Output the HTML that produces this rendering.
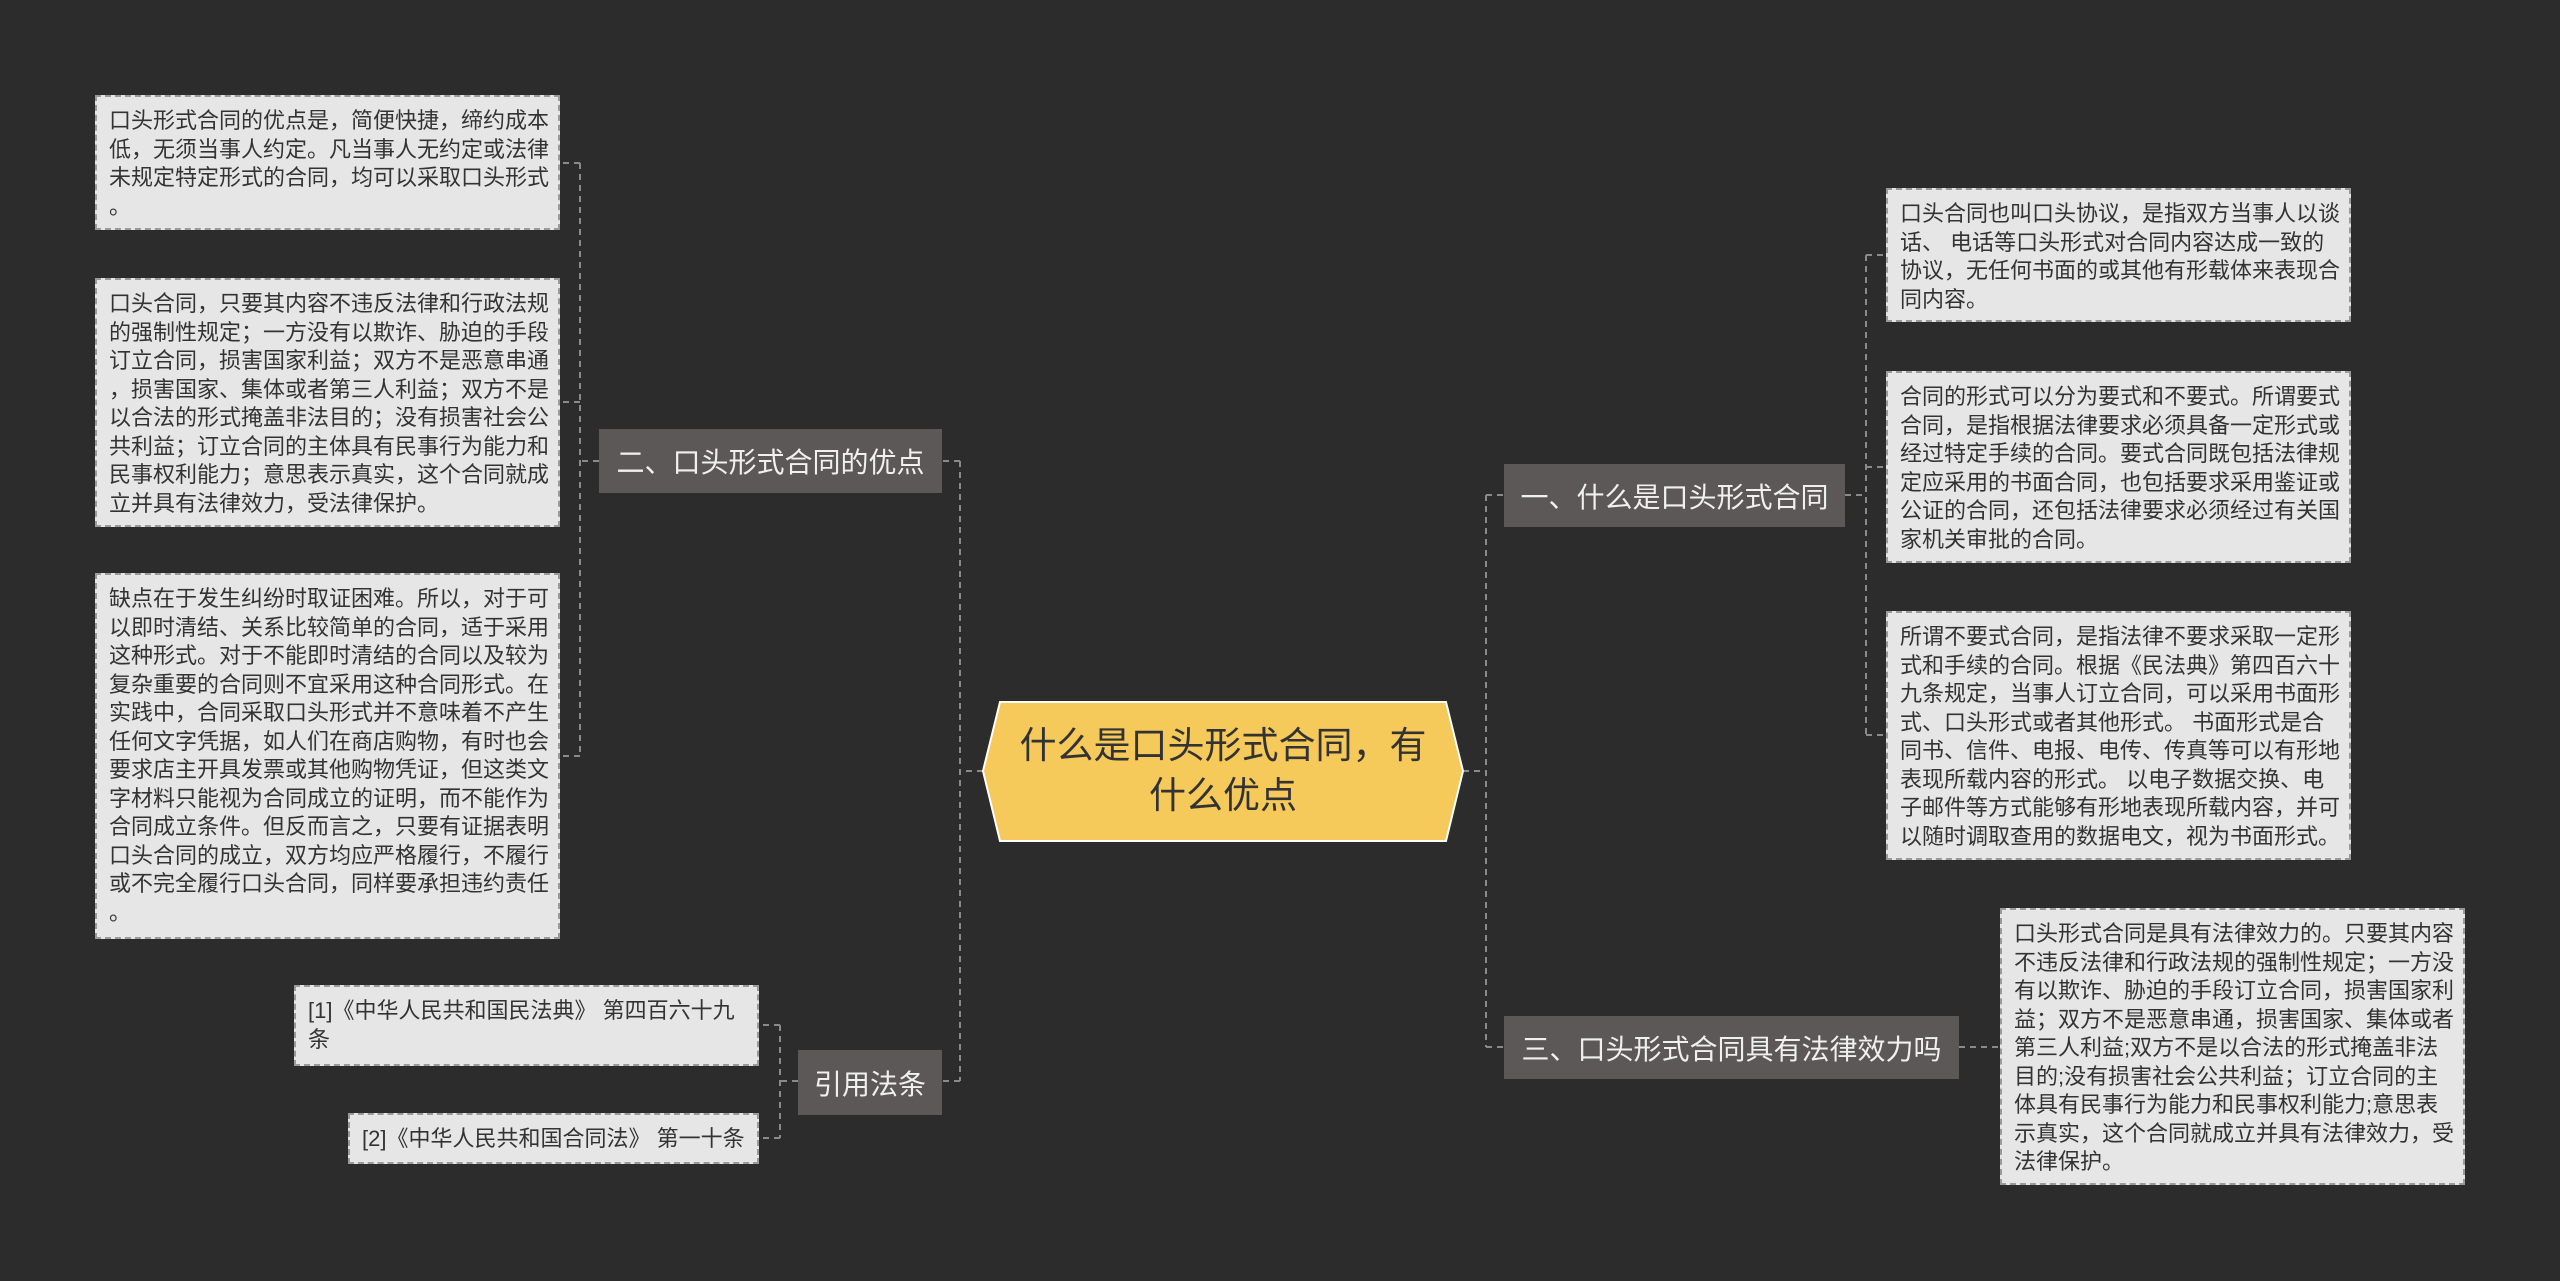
<!DOCTYPE html>
<html><head><meta charset="utf-8"><style>
html,body{margin:0;padding:0}
body{width:2560px;height:1281px;background:#2c2c2c;position:relative;overflow:hidden;font-family:"Liberation Sans","Noto Sans CJK SC",sans-serif}
.leaf{position:absolute;background:#e6e6e6;border:2px dashed #9a9a9a;box-sizing:border-box;color:#333;font-size:22px;line-height:28.5px;padding:10px 12px;white-space:nowrap}
.br{position:absolute;background:#5b5857;color:#f0f0f0;font-size:28px;display:flex;align-items:center;justify-content:center;white-space:nowrap}
svg{position:absolute;left:0;top:0}
</style></head><body>
<svg width="2560" height="1281">
<g stroke="#8a8a8a" stroke-width="2" stroke-dasharray="6,5" fill="none">
<path d="M983 771 H960 M960 461 V1081 M960 461 H942 M960 1081 H942"/>
<path d="M599 461 H580 M580 163 V756 M580 163 H560 M580 402 H560 M580 756 H560"/>
<path d="M798 1081 H780 M780 1025 V1138 M780 1025 H759 M780 1138 H759"/>
<path d="M1463 771 H1486 M1486 495 V1047 M1486 495 H1504 M1486 1047 H1504"/>
<path d="M1845 495 H1866 M1866 255 V735 M1866 255 H1886 M1866 467 H1886 M1866 735 H1886"/>
<path d="M1959 1047 H2000"/>
</g>
<polygon points="1000,702 1446,702 1463,771 1446,841 1000,841 983,771" fill="#f5c95a" stroke="#fff" stroke-width="2"/>
<text x="1223" y="758" font-size="37" fill="#333" text-anchor="middle" font-family="Liberation Sans,Noto Sans CJK SC,sans-serif">什么是口头形式合同，有</text>
<text x="1223" y="808" font-size="37" fill="#333" text-anchor="middle" font-family="Liberation Sans,Noto Sans CJK SC,sans-serif">什么优点</text>
</svg>
<div class="br" style="left:599px;top:429px;width:343px;height:64px">二、口头形式合同的优点</div>
<div class="br" style="left:798px;top:1050px;width:144px;height:65px">引用法条</div>
<div class="br" style="left:1504px;top:464px;width:341px;height:63px">一、什么是口头形式合同</div>
<div class="br" style="left:1504px;top:1016px;width:455px;height:63px">三、口头形式合同具有法律效力吗</div>

<div class="leaf" style="left:95px;top:95px;width:465px;height:135px">口头形式合同的优点是，简便快捷，缔约成本<br>低，无须当事人约定。凡当事人无约定或法律<br>未规定特定形式的合同，均可以采取口头形式<br>。</div>
<div class="leaf" style="left:95px;top:278px;width:465px;height:249px">口头合同，只要其内容不违反法律和行政法规<br>的强制性规定；一方没有以欺诈、胁迫的手段<br>订立合同，损害国家利益；双方不是恶意串通<br>，损害国家、集体或者第三人利益；双方不是<br>以合法的形式掩盖非法目的；没有损害社会公<br>共利益；订立合同的主体具有民事行为能力和<br>民事权利能力；意思表示真实，这个合同就成<br>立并具有法律效力，受法律保护。</div>
<div class="leaf" style="left:95px;top:573px;width:465px;height:366px">缺点在于发生纠纷时取证困难。所以，对于可<br>以即时清结、关系比较简单的合同，适于采用<br>这种形式。对于不能即时清结的合同以及较为<br>复杂重要的合同则不宜采用这种合同形式。在<br>实践中，合同采取口头形式并不意味着不产生<br>任何文字凭据，如人们在商店购物，有时也会<br>要求店主开具发票或其他购物凭证，但这类文<br>字材料只能视为合同成立的证明，而不能作为<br>合同成立条件。但反而言之，只要有证据表明<br>口头合同的成立，双方均应严格履行，不履行<br>或不完全履行口头合同，同样要承担违约责任<br>。</div>
<div class="leaf" style="left:294px;top:985px;width:465px;height:81px">[1]《中华人民共和国民法典》 第四百六十九<br>条</div>
<div class="leaf" style="left:348px;top:1113px;width:411px;height:51px">[2]《中华人民共和国合同法》 第一十条</div>

<div class="leaf" style="left:1886px;top:188px;width:465px;height:134px">口头合同也叫口头协议，是指双方当事人以谈<br>话、 电话等口头形式对合同内容达成一致的<br>协议，无任何书面的或其他有形载体来表现合<br>同内容。</div>
<div class="leaf" style="left:1886px;top:371px;width:465px;height:192px">合同的形式可以分为要式和不要式。所谓要式<br>合同，是指根据法律要求必须具备一定形式或<br>经过特定手续的合同。要式合同既包括法律规<br>定应采用的书面合同，也包括要求采用鉴证或<br>公证的合同，还包括法律要求必须经过有关国<br>家机关审批的合同。</div>
<div class="leaf" style="left:1886px;top:611px;width:465px;height:249px">所谓不要式合同，是指法律不要求采取一定形<br>式和手续的合同。根据《民法典》第四百六十<br>九条规定，当事人订立合同，可以采用书面形<br>式、口头形式或者其他形式。 书面形式是合<br>同书、信件、电报、电传、传真等可以有形地<br>表现所载内容的形式。 以电子数据交换、电<br>子邮件等方式能够有形地表现所载内容，并可<br>以随时调取查用的数据电文，视为书面形式。</div>
<div class="leaf" style="left:2000px;top:908px;width:465px;height:277px">口头形式合同是具有法律效力的。只要其内容<br>不违反法律和行政法规的强制性规定；一方没<br>有以欺诈、胁迫的手段订立合同，损害国家利<br>益；双方不是恶意串通，损害国家、集体或者<br>第三人利益;双方不是以合法的形式掩盖非法<br>目的;没有损害社会公共利益；订立合同的主<br>体具有民事行为能力和民事权利能力;意思表<br>示真实，这个合同就成立并具有法律效力，受<br>法律保护。</div>
</body></html>
